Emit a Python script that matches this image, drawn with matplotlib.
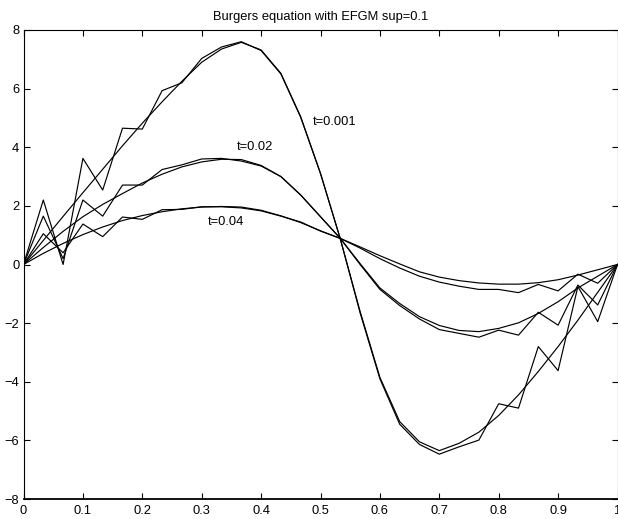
import numpy as np
import matplotlib
matplotlib.use("Agg")
import matplotlib.pyplot as plt

plt.rcParams['font.family'] = ['Liberation Sans', 'DejaVu Sans']

x_nodes = np.linspace(0, 1, 31)

smooth_t0001 = [0, 0.82, 1.64, 2.45, 3.25, 4.05, 4.82, 5.55, 6.25, 6.9, 7.35, 7.58, 7.32, 6.52,
                5.04, 3.11, 0.87, -1.6, -3.85, -5.36, -6.05, -6.35, -6.1, -5.72, -5.15, -4.45,
                -3.65, -2.8, -1.9, -0.95, 0]
efgm_t0001 = [0, 2.2, 0.0, 3.62, 2.54, 4.65, 4.62, 5.93, 6.2, 7.03, 7.42, 7.6, 7.3, 6.5,
              5.02, 3.1, 0.88, -1.65, -3.9, -5.45, -6.14, -6.47, -6.22, -5.99, -4.75, -4.9,
              -2.8, -3.62, -0.75, -1.95, 0]

smooth_t002 = [0, 0.58, 1.13, 1.63, 2.05, 2.42, 2.78, 3.08, 3.33, 3.5, 3.59, 3.58, 3.38, 3.0,
               2.37, 1.63, 0.89, 0.03, -0.8, -1.33, -1.78, -2.08, -2.25, -2.29, -2.18, -1.99,
               -1.67, -1.27, -0.8, -0.4, 0]
efgm_t002 = [0, 1.65, 0.2, 2.2, 1.65, 2.71, 2.71, 3.24, 3.4, 3.6, 3.62, 3.53, 3.36, 3.0,
             2.37, 1.63, 0.89, 0.0, -0.85, -1.4, -1.86, -2.22, -2.35, -2.48, -2.24, -2.41,
             -1.63, -2.07, -0.7, -1.38, 0]

smooth_t004 = [0, 0.38, 0.72, 1.02, 1.28, 1.5, 1.67, 1.8, 1.9, 1.96, 1.98, 1.96, 1.85, 1.66,
               1.43, 1.15, 0.89, 0.6, 0.3, 0.02, -0.25, -0.43, -0.55, -0.63, -0.67, -0.67,
               -0.62, -0.52, -0.36, -0.18, 0]
efgm_t004 = [0, 1.05, 0.4, 1.38, 0.95, 1.62, 1.54, 1.87, 1.88, 1.97, 1.97, 1.93, 1.83, 1.65,
             1.45, 1.14, 0.89, 0.56, 0.2, -0.12, -0.4, -0.6, -0.74, -0.85, -0.85, -0.96,
             -0.68, -0.9, -0.33, -0.64, 0]

labels = ["t=0.001", "t=0.02", "t=0.04"]
label_pos = [(0.487, 4.86), (0.359, 4.0), (0.311, 1.45)]

xticks = [0, 0.1, 0.2, 0.3, 0.4, 0.5, 0.6, 0.7, 0.8, 0.9, 1]
xticklabels = ["0", "0.1", "0.2", "0.3", "0.4", "0.5", "0.6", "0.7", "0.8", "0.9", "1"]
yticks = [-8, -6, -4, -2, 0, 2, 4, 6, 8]

fig = plt.figure(figsize=(6.18, 5.19), dpi=100)
ax = fig.add_axes([23.5 / 618, 20 / 519, 594 / 618, 469 / 519])

for s in [smooth_t0001, efgm_t0001, smooth_t002, efgm_t002, smooth_t004, efgm_t004]:
    ax.plot(x_nodes, s, color='black', linewidth=0.85)

for lab, (lx, ly) in zip(labels, label_pos):
    ax.text(lx, ly, lab, fontsize=9.3, ha='left', va='center')

ax.set_xlim(0, 1)
ax.set_ylim(-8, 8)
ax.set_xticks(xticks)
ax.set_xticklabels(xticklabels)
ax.set_yticks(yticks)
ax.tick_params(direction='in', length=4, width=0.8, top=True, right=True,
               labelsize=9.3, colors='black')
ax.tick_params(axis='x', pad=4)
ax.tick_params(axis='y', pad=3)
for sp in ax.spines.values():
    sp.set_linewidth(0.8)
ax.spines['bottom'].set_linewidth(1.3)
ax.set_title("Burgers equation with EFGM sup=0.1", fontsize=9.3, pad=7)

fig.savefig("out.png", dpi=100)
